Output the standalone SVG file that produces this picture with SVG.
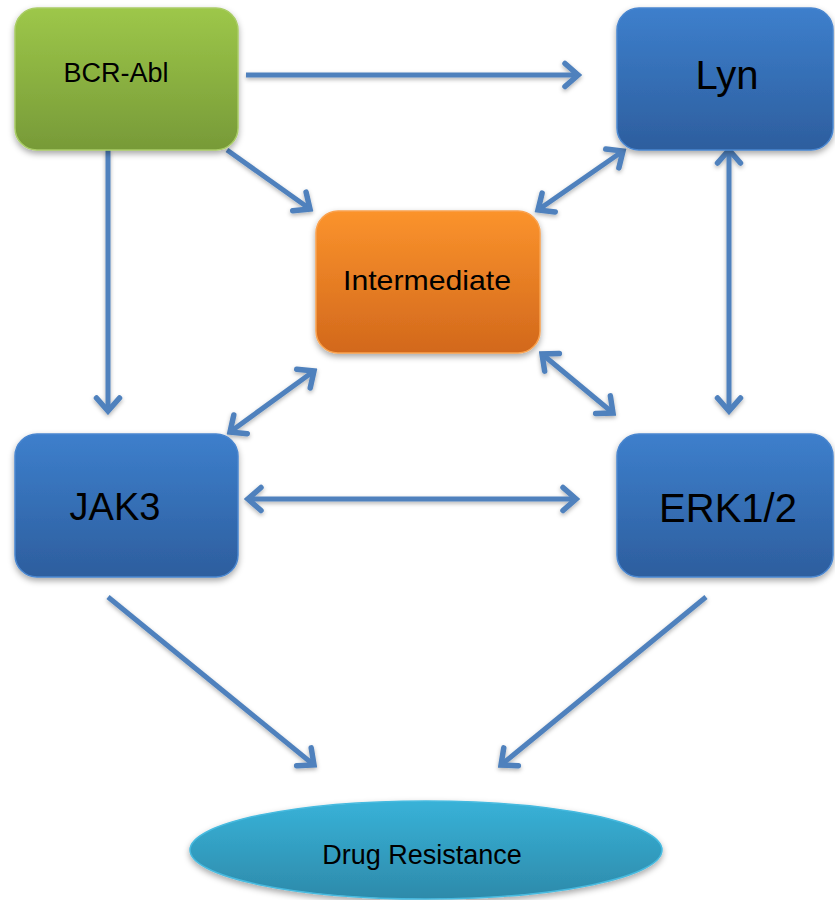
<svg xmlns="http://www.w3.org/2000/svg" width="835" height="900" viewBox="0 0 835 900">
  <style>
    .lbl { font-family: "Liberation Sans", Arial, sans-serif; fill: #000; text-anchor: middle; }
    .edge { stroke: #4F81BD; stroke-width: 5; fill: none; marker-end: url(#head); }
    .bi { marker-start: url(#head); }
  </style>
  <defs>
    <linearGradient id="gGreen" x1="0" y1="0" x2="0" y2="1">
      <stop offset="0" stop-color="#9DC749"/>
      <stop offset="1" stop-color="#779A38"/>
    </linearGradient>
    <linearGradient id="gBlue" x1="0" y1="0" x2="0" y2="1">
      <stop offset="0" stop-color="#3D7FCC"/>
      <stop offset="1" stop-color="#2D5E9E"/>
    </linearGradient>
    <linearGradient id="gOrange" x1="0" y1="0" x2="0" y2="1">
      <stop offset="0" stop-color="#FB932C"/>
      <stop offset="1" stop-color="#D2681C"/>
    </linearGradient>
    <linearGradient id="gCyan" x1="0" y1="0" x2="0" y2="1">
      <stop offset="0" stop-color="#38B2D8"/>
      <stop offset="1" stop-color="#2D8AAA"/>
    </linearGradient>
    <filter id="shadow" x="-20%" y="-20%" width="140%" height="150%">
      <feDropShadow dx="0" dy="3" stdDeviation="3" flood-color="#000" flood-opacity="0.35"/>
    </filter>
    <filter id="lshadow" x="-20%" y="-20%" width="140%" height="140%">
      <feDropShadow dx="0" dy="2" stdDeviation="2" flood-color="#000" flood-opacity="0.3"/>
    </filter>
    <marker id="head" markerUnits="userSpaceOnUse" viewBox="-22 -16 26 32" refX="0" refY="0" markerWidth="26" markerHeight="32" orient="auto-start-reverse">
      <path d="M -13 -11.5 L 0 0 L -13 11.5" fill="none" stroke="#4F81BD" stroke-width="5.5" stroke-linecap="round" stroke-linejoin="miter"/>
    </marker>
  </defs>

  <g id="connectors" filter="url(#lshadow)">
    <line class="edge" x1="246" y1="75" x2="578" y2="75"/>
    <line class="edge" x1="227" y1="150" x2="310" y2="209"/>
    <line class="edge" x1="108" y1="150" x2="108" y2="411"/>
    <line class="edge bi" x1="623" y1="151" x2="538" y2="210"/>
    <line class="edge bi" x1="729" y1="150" x2="729" y2="411"/>
    <line class="edge bi" x1="314" y1="371" x2="230" y2="432"/>
    <line class="edge bi" x1="542" y1="354" x2="613" y2="413"/>
    <line class="edge bi" x1="248" y1="499" x2="576" y2="499"/>
    <line class="edge" x1="108" y1="597" x2="314" y2="765"/>
    <line class="edge" x1="706" y1="597" x2="501" y2="765"/>
  </g>

  <g id="bcr-abl">
    <rect x="15" y="8" width="223" height="142" rx="22" fill="url(#gGreen)" stroke="#A9CC66" stroke-width="1.5" filter="url(#shadow)"/>
    <text class="lbl" x="116" y="82" font-size="27">BCR-Abl</text>
  </g>

  <g id="lyn">
    <rect x="617" y="8" width="216" height="142" rx="22" fill="url(#gBlue)" stroke="#4A86CF" stroke-width="1.5" filter="url(#shadow)"/>
    <text class="lbl" x="727" y="89" font-size="40">Lyn</text>
  </g>

  <g id="intermediate">
    <rect x="316" y="211" width="224" height="142" rx="22" fill="url(#gOrange)" stroke="#F9A24F" stroke-width="1.5" filter="url(#shadow)"/>
    <text class="lbl" x="427" y="290" font-size="28" textLength="168" lengthAdjust="spacingAndGlyphs">Intermediate</text>
  </g>

  <g id="jak3">
    <rect x="15" y="434" width="223" height="143" rx="22" fill="url(#gBlue)" stroke="#4A86CF" stroke-width="1.5" filter="url(#shadow)"/>
    <text class="lbl" x="115" y="520" font-size="38">JAK3</text>
  </g>

  <g id="erk12">
    <rect x="617" y="434" width="216" height="143" rx="22" fill="url(#gBlue)" stroke="#4A86CF" stroke-width="1.5" filter="url(#shadow)"/>
    <text class="lbl" x="728" y="522" font-size="40">ERK1/2</text>
  </g>

  <g id="drug-resistance">
    <ellipse cx="426" cy="850" rx="236" ry="49" fill="url(#gCyan)" stroke="#47BADF" stroke-width="1.5" filter="url(#shadow)"/>
    <text class="lbl" x="422" y="864" font-size="27">Drug Resistance</text>
  </g>
</svg>
